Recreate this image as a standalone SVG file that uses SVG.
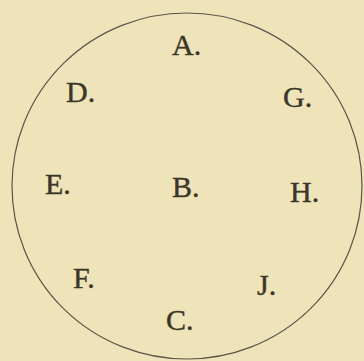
<svg xmlns="http://www.w3.org/2000/svg" width="364" height="361" viewBox="0 0 364 361">
<style>
.lbl{font-family:"Liberation Serif","DejaVu Serif",serif;font-size:30px;fill:#3b3628;stroke:#3b3628;stroke-width:0.4}
</style>
<rect width="364" height="361" fill="#efe3b9"/>
<g id="connectors">
<ellipse cx="187" cy="186" rx="175" ry="173" fill="none" stroke="#5a5548" stroke-width="1.2"/>
</g>
<g id="A"><text class="lbl" x="172" y="55">A.</text></g>
<g id="D"><text class="lbl" x="66" y="102">D.</text></g>
<g id="G"><text class="lbl" x="283" y="107">G.</text></g>
<g id="E"><text class="lbl" x="45" y="194">E.</text></g>
<g id="B"><text class="lbl" x="172" y="197">B.</text></g>
<g id="H"><text class="lbl" x="290" y="202">H.</text></g>
<g id="F"><text class="lbl" x="73" y="288">F.</text></g>
<g id="J"><text class="lbl" x="257" y="295">J.</text></g>
<g id="C"><text class="lbl" x="166" y="330">C.</text></g>
</svg>
